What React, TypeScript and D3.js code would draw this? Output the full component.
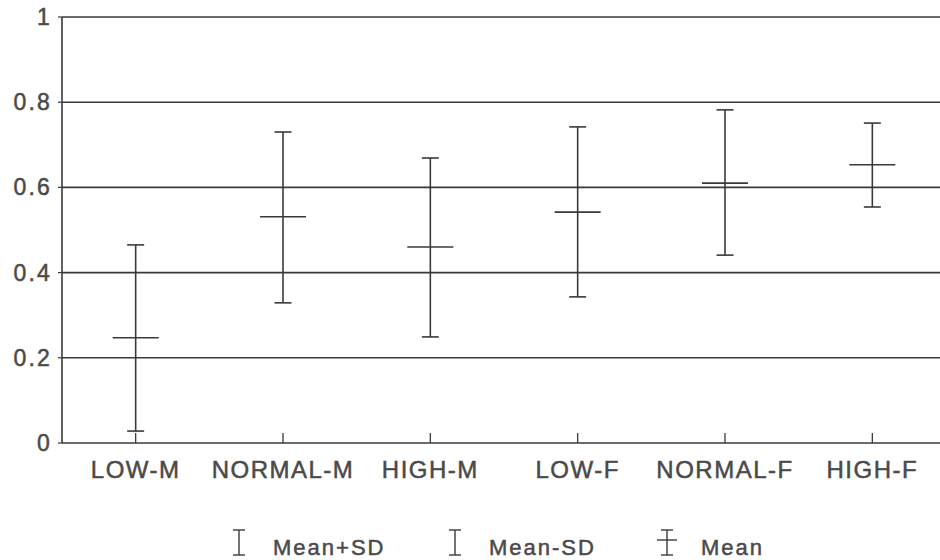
import React from "react";
import * as d3 from "d3";

const categories = ["LOW-M", "NORMAL-M", "HIGH-M", "LOW-F", "NORMAL-F", "HIGH-F"];
const meanPlusSD = [0.465, 0.73, 0.669, 0.742, 0.782, 0.751];
const meanValues = [0.247, 0.531, 0.46, 0.542, 0.61, 0.653];
const meanMinusSD = [0.028, 0.329, 0.249, 0.343, 0.441, 0.554];
const yTicks = [0, 0.2, 0.4, 0.6, 0.8, 1];
const yTickLabels = ["0", "0.2", "0.4", "0.6", "0.8", "1"];
const legendLabels = ["Mean+SD", "Mean-SD", "Mean"];

const W = 940;
const H = 560;
const left = 62;
const right = 946;
const top = 17;
const bottom = 443;

const LINE = "#3a3a3a";
const TEXT = "#4a4a4a";
const FONT = "'Liberation Sans', Arial, Helvetica, sans-serif";

export default function App() {
  const x = d3.scaleBand<string>().domain(categories).range([left, right]).padding(0);
  const y = d3.scaleLinear().domain([0, 1]).range([bottom, top]);
  const cx = (c: string) => (x(c) as number) + x.bandwidth() / 2;

  const capHalf = 8.5;
  const meanHalf = 23;

  const legendX = [239, 455, 667];
  const legendY = 555;

  return (
    <svg
      width={W}
      height={H}
      style={{ position: "absolute", left: 0, top: 0, background: "#fff" }}
    >
      <rect x={0} y={0} width={W} height={H} fill="#fff" />
      {yTicks.map((t, i) => (
        <g key={"g" + i}>
          <line x1={left} x2={right} y1={y(t)} y2={y(t)} stroke={LINE} strokeWidth={1.6} />
          <line x1={left - 4} x2={left} y1={y(t)} y2={y(t)} stroke={LINE} strokeWidth={1.2} />
          <text
            x={52}
            y={y(t) + 8}
            textAnchor="end"
            fontFamily={FONT}
            fontSize={23}
            letterSpacing={2.2}
            fill={TEXT}
            stroke={TEXT}
            strokeWidth={0.5}
          >
            {yTickLabels[i]}
          </text>
        </g>
      ))}
      <line x1={left} x2={left} y1={top} y2={bottom} stroke={LINE} strokeWidth={1.6} />
      {categories.map((c) => (
        <g key={"x" + c}>
          <line x1={cx(c)} x2={cx(c)} y1={bottom} y2={bottom - 10} stroke={LINE} strokeWidth={1.3} />
          <text
            x={cx(c)}
            y={478}
            textAnchor="middle"
            fontFamily={FONT}
            fontSize={24}
            letterSpacing={1.5}
            fill={TEXT}
            stroke={TEXT}
            strokeWidth={0.5}
          >
            {c}
          </text>
        </g>
      ))}
      {categories.map((c, i) => {
        const px = cx(c);
        return (
          <g key={"e" + c} stroke={LINE} strokeWidth={1.6}>
            <line x1={px} x2={px} y1={y(meanPlusSD[i])} y2={y(meanMinusSD[i])} />
            <line x1={px - capHalf} x2={px + capHalf} y1={y(meanPlusSD[i])} y2={y(meanPlusSD[i])} />
            <line x1={px - capHalf} x2={px + capHalf} y1={y(meanMinusSD[i])} y2={y(meanMinusSD[i])} />
            <line x1={px - meanHalf} x2={px + meanHalf} y1={y(meanValues[i])} y2={y(meanValues[i])} />
          </g>
        );
      })}
      {legendLabels.map((lab, i) => {
        const lx = legendX[i];
        const sym =
          i < 2 ? (
            <g stroke={LINE} strokeWidth={1.4}>
              <line x1={lx} x2={lx} y1={legendY - 25} y2={legendY} />
              <line x1={lx - 6} x2={lx + 6} y1={legendY - 25} y2={legendY - 25} />
              <line x1={lx - 6} x2={lx + 6} y1={legendY} y2={legendY} />
            </g>
          ) : (
            <g stroke={LINE} strokeWidth={1.4}>
              <line x1={lx} x2={lx} y1={legendY - 25} y2={legendY} />
              <line x1={lx - 6} x2={lx + 6} y1={legendY - 25} y2={legendY - 25} />
              <line x1={lx - 10} x2={lx + 10} y1={legendY - 15} y2={legendY - 15} />
              <line x1={lx - 6} x2={lx + 6} y1={legendY} y2={legendY} />
            </g>
          );
        return (
          <g key={"l" + i}>
            {sym}
            <text
              x={lx + 34}
              y={legendY}
              fontFamily={FONT}
              fontSize={22}
              letterSpacing={2}
              fill={TEXT}
              stroke={TEXT}
              strokeWidth={0.5}
            >
              {lab}
            </text>
          </g>
        );
      })}
    </svg>
  );
}
